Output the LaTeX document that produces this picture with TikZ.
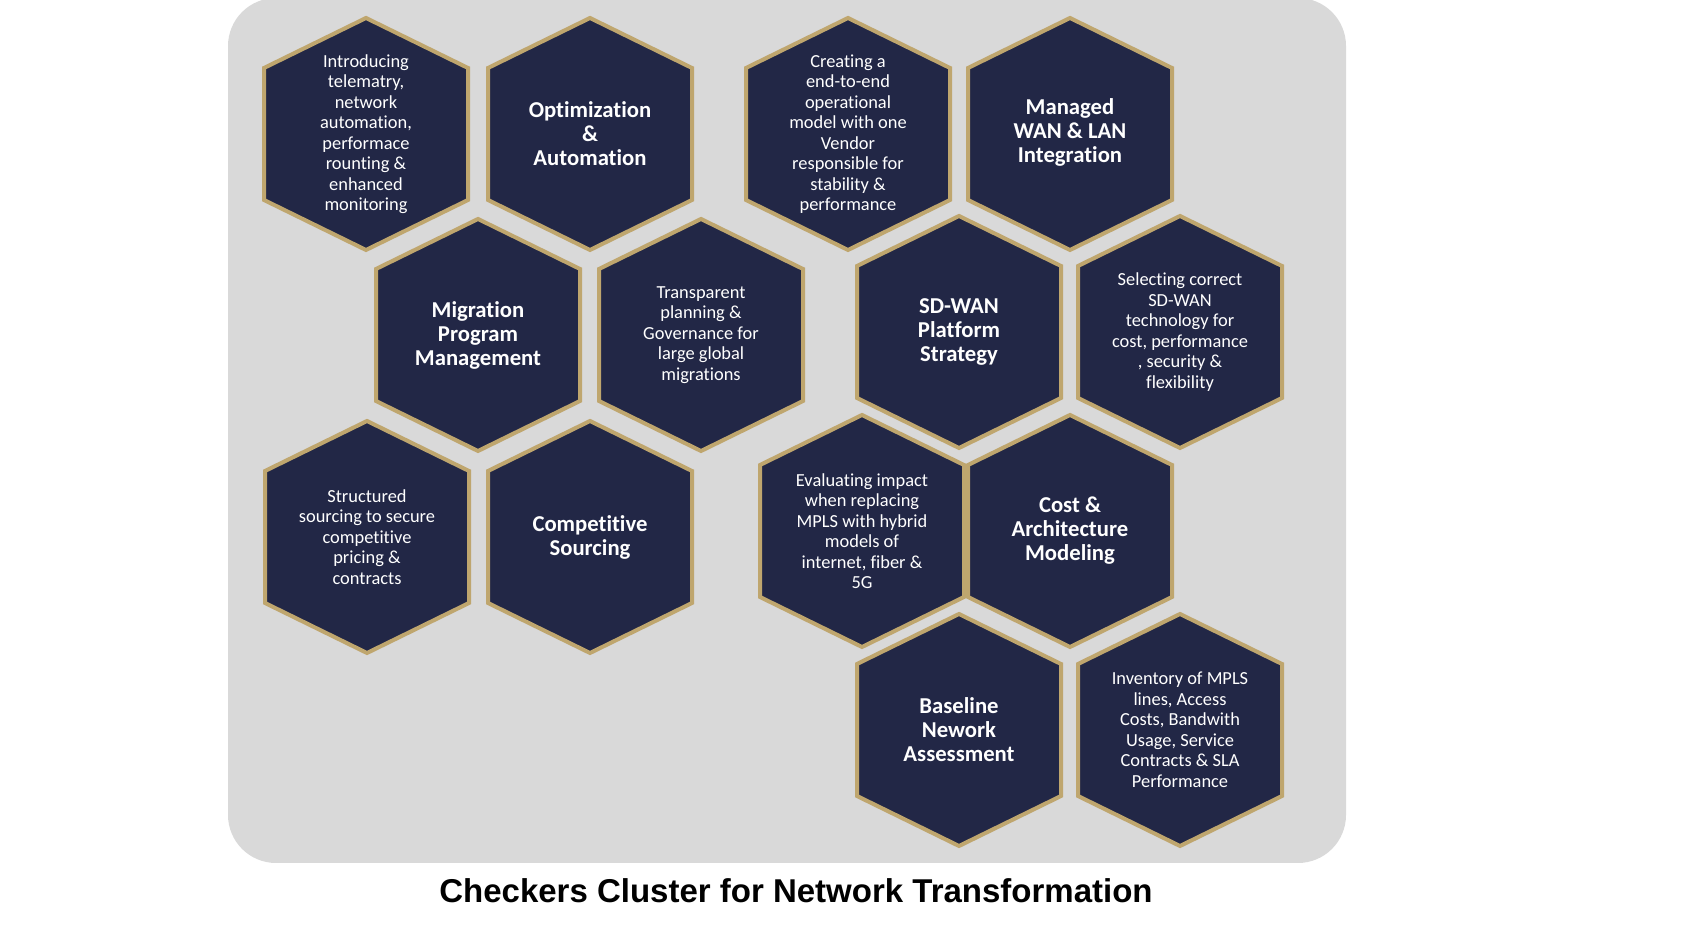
\documentclass[tikz,border=0pt]{standalone}
\usepackage{fontspec}
\setmainfont{Carlito}[Ligatures=NoCommon]
\newfontfamily\titlefont{Liberation Sans}
\usepackage{tikz}

\definecolor{hexnavy}{HTML}{222746}
\definecolor{hexgold}{HTML}{BFA66E}
\definecolor{panelgray}{HTML}{D9D9D9}

\begin{document}
\begin{tikzpicture}[
x=0.5pt, y=0.5pt,
hexframe/.style =
  {draw=hexgold, fill=hexnavy,
   line width=2pt, line join=miter},
pics/hexcell/.style =
  {code={\path[hexframe] (0,116) -- (102,66) -- (102,-66) -- (0,-116)
     -- (-102,-66) -- (-102,66) -- cycle;}},
infotext/.style =
  {text=white, align=center,
   font=\fontsize{9.2}{10.25}\selectfont},
headtext/.style =
  {text=white, align=center,
   font=\bfseries\fontsize{11.35}{12}\selectfont}
]
\useasboundingbox (0,0) rectangle (1681,930);
%Panel
\fill[panelgray, rounded corners=24pt] (228,67) rectangle (1346,932);
%Hexagons
\pic at (366,796) {hexcell};
\node[infotext] (telemetry) at (366,796) {Introducing\\telematry,\\network\\automation,\\performace\\rounting \&\\enhanced\\monitoring};
\pic at (590,796) {hexcell};
\node[headtext] (optimization) at (590,796) {Optimization\\\&\\Automation};
\pic at (848,796) {hexcell};
\node[infotext] (operational) at (848,796) {Creating a\\end-to-end\\operational\\model with one\\Vendor\\responsible for\\stability \&\\performance};
\pic at (1070,796) {hexcell};
\node[headtext] (managed) at (1070,798) {Managed\\WAN \& LAN\\Integration};

\pic at (478,595) {hexcell};
\node[headtext] (migration) at (478,595) {Migration\\Program\\Management};
\pic at (701,595) {hexcell};
\node[infotext] (governance) at (701,595) {Transparent\\planning \&\\Governance for\\large global\\migrations};
\pic at (959,598) {hexcell};
\node[headtext] (sdwan) at (959,598) {SD-WAN\\Platform\\Strategy};
\pic at (1180,598) {hexcell};
\node[infotext] (selection) at (1180,598) {Selecting correct\\SD-WAN\\technology for\\cost, performance\\, security \&\\flexibility};

\pic at (367,393) {hexcell};
\node[infotext] (structured) at (367,393) {Structured\\sourcing to secure\\competitive\\pricing \&\\contracts};
\pic at (590,393) {hexcell};
\node[headtext] (sourcing) at (590,393) {Competitive\\Sourcing};
\pic at (862,399) {hexcell};
\node[infotext] (evaluating) at (862,399) {Evaluating impact\\when replacing\\MPLS with hybrid\\models of\\internet, fiber \&\\5G};
\pic at (1070,399) {hexcell};
\node[headtext] (costmodel) at (1070,399) {Cost \&\\Architecture\\Modeling};

\pic at (959,200) {hexcell};
\node[headtext] (baseline) at (959,200) {Baseline\\Nework\\Assessment};
\pic at (1180,200) {hexcell};
\node[infotext] (inventory) at (1180,200) {Inventory of MPLS\\lines, Access\\Costs, Bandwith\\Usage, Service\\Contracts \& SLA\\Performance};
%Title
\node[font=\titlefont\bfseries\fontsize{16.5}{18}\selectfont] (title) at (796,39) {Checkers Cluster for Network Transformation};
\end{tikzpicture}
\end{document}
